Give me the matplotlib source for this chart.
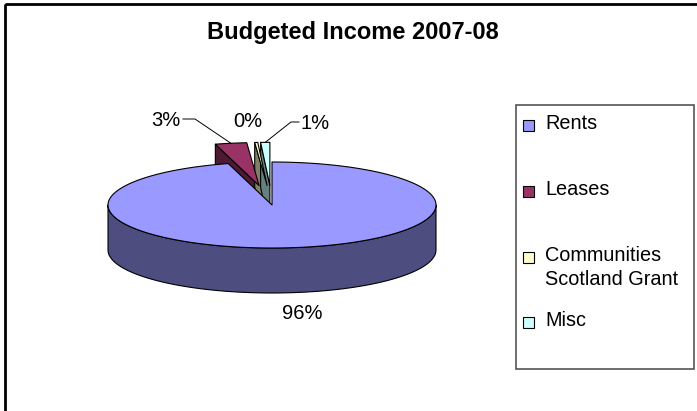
import textwrap
import numpy as np
import matplotlib.pyplot as plt
from matplotlib.patches import Polygon, Rectangle

plt.rcParams['font.family'] = ['Liberation Sans', 'DejaVu Sans']

title = "Budgeted Income 2007-08"
categories = ["Rents", "Leases", "Communities Scotland Grant", "Misc"]
values = [95.7, 3.1, 0.3, 0.9]
top_colors = ["#9999ff", "#993366", "#ffffcc", "#ccffff"]
side_colors = ["#4d4d80", "#4d1a33", "#808066", "#668080"]
exploded = [False, True, True, True]

# layout in pixels (axes = figure, y down)
W, H = 697, 411
CX, CY = 272, 205
RX, RY = 164, 43
DEPTH = 45
EXPLODE = 75

label_pos = [(302, 313, "center"), (180, 120, "right"), (248, 121, "center"), (301, 123, "left")]
leaders = [False, True, False, True]
legend_y = [125, 191, 257, 322]


def proj(t, r=1.0, z=0.0, off=(0, 0)):
    return (CX + off[0] + RX * r * np.sin(t), CY + off[1] - RY * r * np.cos(t) + z)


def arc(t1, t2, z, off, n=80):
    ts = np.linspace(t1, t2, n)
    return [proj(t, 1.0, z, off) for t in ts]


fig = plt.figure(figsize=(W / 100, H / 100), dpi=100)
ax = fig.add_axes([0, 0, 1, 1])
ax.set_xlim(0, W)
ax.set_ylim(H, 0)
ax.axis("off")

# outer chart frame
ax.add_patch(Rectangle((4.5, 4), W + 10, H + 10, fill=False, ec="black", lw=2))

total = sum(values)
bounds = np.concatenate([[0], np.cumsum(values)]) / total * 2 * np.pi
slices = []
for i, v in enumerate(values):
    t1, t2 = bounds[i], bounds[i + 1]
    tm = (t1 + t2) / 2
    off = (0, 0)
    if exploded[i]:
        off = (EXPLODE * np.sin(tm), -EXPLODE * RY / RX * np.cos(tm))
    slices.append((t1, t2, tm, off))

ekw = dict(ec="black", lw=0.8, joinstyle="round")


def draw_walls(i):
    t1, t2, tm, off = slices[i]
    c_top = proj(0, 0, 0, off)
    c_bot = proj(0, 0, DEPTH, off)
    if np.sin(t1) < -1e-9:
        ax.add_patch(Polygon([c_top, proj(t1, 1, 0, off), proj(t1, 1, DEPTH, off), c_bot],
                             fc=side_colors[i], **ekw))
    if np.sin(t2) > 1e-9:
        ax.add_patch(Polygon([c_top, proj(t2, 1, 0, off), proj(t2, 1, DEPTH, off), c_bot],
                             fc=side_colors[i], **ekw))
    a, b = max(t1, np.pi / 2), min(t2, 3 * np.pi / 2)
    if b > a:
        pts = arc(a, b, 0, off) + arc(b, a, DEPTH, off)
        ax.add_patch(Polygon(pts, fc=side_colors[i], **ekw))


def draw_top(i):
    t1, t2, tm, off = slices[i]
    pts = [proj(0, 0, 0, off)] + arc(t1, t2, 0, off, n=max(4, int((t2 - t1) * 60)))
    ax.add_patch(Polygon(pts, fc=top_colors[i], **ekw))


back = [i for i in range(len(values)) if exploded[i]]
front = [i for i in range(len(values)) if not exploded[i]]
for group in (back, front):
    for i in group:
        draw_walls(i)
    for i in group:
        draw_top(i)

# data labels
for i, v in enumerate(values):
    x, y, ha = label_pos[i]
    ax.text(x, y, f"{round(v / total * 100):.0f}%", ha=ha, va="center", fontsize=14.5)
    if leaders[i]:
        t1, t2, tm, off = slices[i]
        rx, ry = proj(tm, 1, 0, off)
        sx = x + 3 if ha == "right" else x - 2
        ex = sx + 12 if ha == "right" else sx - 8
        ax.plot([sx, ex, rx], [y - 1, y - 1, ry], color="black", lw=0.7)

ax.text(353, 32, title, ha="center", va="center", fontsize=17, fontweight="bold")

# legend
ax.add_patch(Rectangle((516, 105), 178, 264, fill=False, ec="#555555", lw=1.2))
for i, name in enumerate(categories):
    y = legend_y[i]
    ax.add_patch(Rectangle((523, y - 5), 11, 11, fc=top_colors[i], ec="black", lw=0.8))
    ax.text(545, y - 11, textwrap.fill(name, 14), ha="left", va="top", fontsize=14.3,
            linespacing=1.3)

fig.savefig("out.png", dpi=100)
